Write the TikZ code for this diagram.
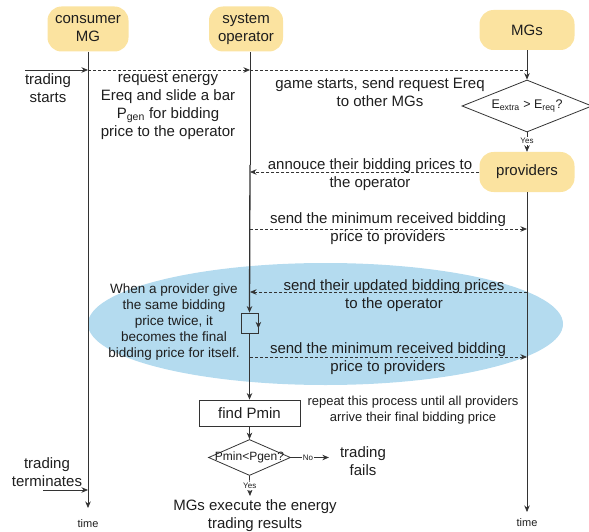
\documentclass[tikz,border=0pt]{standalone}
\usepackage{fontspec}
\setmainfont{Liberation Sans}
\usetikzlibrary{shapes.geometric,arrows.meta}
\definecolor{ylw}{HTML}{FBE3A0}
\definecolor{blu}{HTML}{B4DBEF}
\definecolor{ln}{HTML}{333333}
\definecolor{txt}{HTML}{1E1E1E}
\tikzset{
  >={Stealth[length=6.5pt,width=5.5pt]},
  actor/.style={fill=ylw, rounded corners=14pt, minimum height=42pt, align=center,
    font=\fontsize{15}{18}\selectfont, inner sep=0pt, text=txt},
  msg/.style={font=\fontsize{15}{18}\selectfont, align=center, inner sep=0pt, text=txt},
  note/.style={font=\fontsize{13.5}{16}\selectfont, align=center, inner sep=0pt, text=txt},
  small/.style={font=\fontsize{11}{13}\selectfont, inner sep=0pt, text=txt},
  tiny/.style={font=\fontsize{8}{9}\selectfont, inner sep=1pt, fill=white, text=txt},
  life/.style={draw=ln, line width=0.7pt},
  dmsg/.style={draw=ln, line width=0.7pt, dash pattern=on 3pt off 2pt},
  dia/.style={shape=diamond, draw=ln, line width=0.8pt, inner sep=0pt},
  box/.style={draw=ln, line width=0.8pt, inner sep=0pt}
}
\begin{document}
\begin{tikzpicture}[x=1pt,y=-1pt]
\useasboundingbox (0,0) rectangle (589,532);

% blue loop region
\node[shape=ellipse, fill=blu, minimum width=475pt, minimum height=122pt, inner sep=0pt] (loop) at (325.5,324) {};

% actors
\node[actor, minimum width=81pt, minimum height=45pt] (cmg) at (88,29) {consumer\\MG};
\node[actor, minimum width=74pt, minimum height=45pt] (op) at (246,29) {system\\operator};
\node[actor, minimum width=95pt, minimum height=40pt] (mgs) at (527,30) {MGs};
\node[dia, minimum width=130pt, minimum height=52pt,
      label={[font=\fontsize{12.5}{14}\selectfont, text=txt]center:E\textsubscript{extra} > E\textsubscript{req}?}] (d1) at (527,106) {};
\node[actor, minimum width=95pt, minimum height=40pt] (prov) at (527,172) {providers};

% coordinates on lifelines
\coordinate (cEnd) at (88,508);
\coordinate (pEnd) at (527,512);
\coordinate (tsA) at (25,70);
\coordinate (c70) at (88,70);
\coordinate (o70) at (250,70);
\coordinate (m70) at (527,70);
\coordinate (oTop) at (250,52);
\coordinate (oThick) at (250,165);
\coordinate (o172) at (250,172);
\coordinate (o229) at (250,229);
\coordinate (p229) at (527,229);
\coordinate (o292) at (250,292);
\coordinate (p292) at (527,292);
\coordinate (o357) at (250,357);
\coordinate (p357) at (527,357);
\coordinate (tmA) at (43,490);
\coordinate (tmB) at (88,490);
\coordinate (yEnd) at (250,496);

% self-loop box, find Pmin, decision
\node[box, minimum width=17pt, minimum height=20pt] (lp) at (249.5,323) {};
\node[box, minimum width=101pt, minimum height=26pt, font=\fontsize{15}{18}\selectfont, text=txt] (fp) at (249.5,413) {find Pmin};
\node[dia, minimum width=82pt, minimum height=36pt,
      label={[font=\fontsize{12}{14}\selectfont, text=txt]center:Pmin<Pgen?}] (d2) at (249.5,457.5) {};

% lifelines
\draw[life,->] (cmg.south) -- (cEnd);
\draw[life] (oTop) -- (oThick);
\draw[life, line width=1.3pt,->] (oThick) -- (lp.north);
\draw[life, line width=1.1pt,->] (lp.south) -- (fp.north);
\draw[life,->] (fp.south) -- (d2.north);
\draw[life,->] (d2.south) -- node[tiny, pos=0.5]{Yes} (yEnd);
\draw[life,->] ([yshift=-2pt]lp.north east) -- ([yshift=5pt]lp.south east);
\draw[life,->] (mgs.south) -- (d1.north);
\draw[life,->] (d1.south) -- node[tiny, pos=0.45]{Yes} (prov.north);
\draw[life,->] (prov.south) -- (pEnd);

% messages
\draw[life,->] (tsA) -- (c70);
\draw[dmsg,->] (c70) -- (o70);
\draw[dmsg] (o70) -- (m70);
\draw[dmsg,->] (prov.west) -- (o172);
\draw[dmsg,->] (o229) -- (p229);
\draw[dmsg,->] (p292) -- (o292);
\draw[dmsg,->] (o357) -- (p357);
\draw[life,->] (tmA) -- (tmB);

% texts
\node[msg] (ts) at (48,88) {trading\\starts};
\node[msg] (req) at (168,106) {request energy\\Ereq and slide a bar\\P\textsubscript{gen} for bidding\\price to the operator};
\node[msg] (game) at (380,92) {game starts, send request Ereq\\to other MGs};
\node[msg] (ann) at (370,175) {annouce their bidding prices to\\the operator};
\node[msg] (s1) at (388,229) {send the minimum received bidding\\price to providers};
\node[msg] (upd) at (394,296) {send their updated bidding prices\\to the operator};
\node[msg] (s2) at (388,359) {send the minimum received bidding\\price to providers};
\node[note] (when) at (174,322) {When a provider give\\the same bidding\\price twice, it\\becomes the final\\bidding price for itself.};
\node[font=\fontsize{13}{15.5}\selectfont, align=center, inner sep=0pt, text=txt] (rep) at (413,410) {repeat this process until all providers\\arrive their final bidding price};
\node[msg] (fails) at (363,461) {trading\\fails};
\draw[life,->] (d2.east) -- node[tiny, pos=0.45]{No} ([xshift=-11pt]fails.west |- d2.east);
\node[msg] (exec) at (255,516) {MGs execute the energy\\trading results};
\node[msg] (term) at (47,472) {trading\\terminates};
\node[small] (t1) at (88,524) {time};
\node[small] (t2) at (527,523) {time};
\end{tikzpicture}
\end{document}
